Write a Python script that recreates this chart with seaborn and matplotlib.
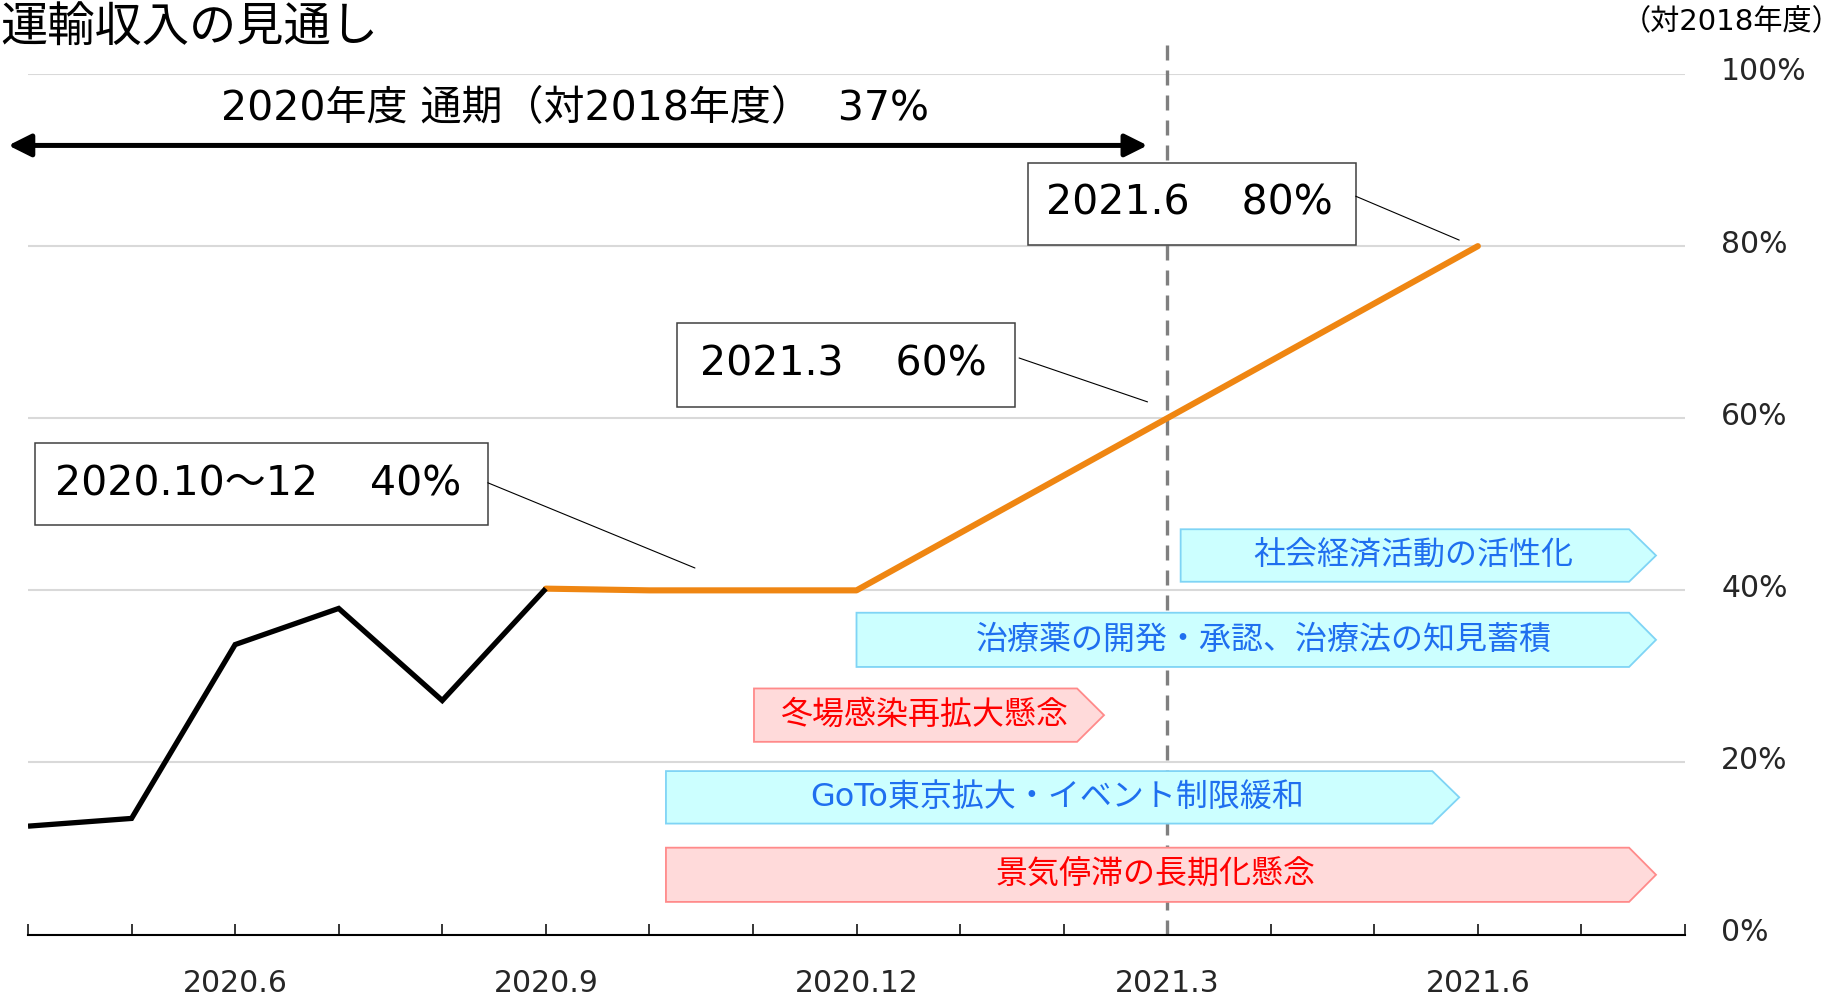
import numpy as np
import pandas as pd
import matplotlib
matplotlib.use('Agg')
import matplotlib.pyplot as plt
import matplotlib.transforms as mtransforms
import seaborn as sns
from matplotlib.patches import Polygon, Rectangle

# months on the category axis (2020.4 .. 2021.8)
months = ['2020.4', '2020.5', '2020.6', '2020.7', '2020.8', '2020.9', '2020.10', '2020.11',
          '2020.12', '2021.1', '2021.2', '2021.3', '2021.4', '2021.5', '2021.6', '2021.7', '2021.8']
tick_labels = ['2020.6', '2020.9', '2020.12', '2021.3', '2021.6']

# actual results (black)
actual_months = ['2020.4', '2020.5', '2020.6', '2020.7', '2020.8', '2020.9']
actual_values = [12.6, 13.5, 33.7, 37.9, 27.2, 40.2]

# outlook (orange)
outlook_months = ['2020.9', '2020.10', '2020.12', '2021.3', '2021.6']
outlook_values = [40.2, 40.0, 40.0, 60.0, 80.0]

yticks = [0, 20, 40, 60, 80, 100]

sns.set_style('white')
plt.rcParams['font.family'] = ['DejaVu Sans', 'Noto Sans CJK JP']

df_act = pd.DataFrame({'month': actual_months, 'value': actual_values})
df_act['pos'] = df_act['month'].map(months.index)
df_out = pd.DataFrame({'month': outlook_months, 'value': outlook_values})
df_out['pos'] = df_out['month'].map(months.index)

fig = plt.figure(figsize=(18.41, 9.97), dpi=100)
ax = fig.add_axes([28 / 1841, 1 - 934.6 / 997, (1685 - 28) / 1841, (934.6 - 74) / 997])

sns.lineplot(data=df_out, x='pos', y='value', ax=ax, color='#EF8612', lw=4.4,
             solid_capstyle='round', solid_joinstyle='round', zorder=4)
sns.lineplot(data=df_act, x='pos', y='value', ax=ax, color='black', lw=3.8,
             solid_capstyle='butt', solid_joinstyle='miter', zorder=5)

ax.set_xlim(0, len(months) - 1)
ax.set_ylim(0, 100)
ax.set_xlabel('')
ax.set_ylabel('')

# axes styling
for s in ['left', 'right', 'top']:
    ax.spines[s].set_visible(False)
ax.spines['bottom'].set_color('black')
ax.spines['bottom'].set_linewidth(1.5)

ax.set_xticks(range(len(months)))
ax.set_xticklabels([m if m in tick_labels else '' for m in months])
ax.tick_params(axis='x', bottom=True, direction='in', length=8, width=1.1, color='black',
               labelsize=21.5, pad=25)
ax.yaxis.tick_right()
ax.set_yticks(yticks)
ax.set_yticklabels([f'{v}%' for v in yticks])
ax.tick_params(axis='y', length=0, labelsize=21.5, pad=26)
# percent labels sit a little above their gridlines
shift = mtransforms.ScaledTranslation(0, 5 / 100, fig.dpi_scale_trans)
for lab in ax.get_yticklabels():
    lab.set_transform(lab.get_transform() + shift)
ax.yaxis.grid(True, color='#D9D9D9', lw=1.5)
ax.set_axisbelow(True)

# dashed line at 2021.3
ax.vlines(months.index('2021.3'), 0, 103.6, colors='#7F7F7F', lw=2.4,
          linestyles=(0, (4.5, 3)), clip_on=False, zorder=1)

# chevron shapes: (text, x start, x tip, y bottom, y top, kind, text offset)
events = [
    ('社会経済活動の活性化', 11.13, 15.72, 41.0, 47.1, 'pos', 0.0),
    ('治療薬の開発・承認、治療法の知見蓄積', 8.0, 15.72, 31.1, 37.4, 'pos', 0.12),
    ('冬場感染再拡大懸念', 7.01, 10.39, 22.4, 28.6, 'neg', 0.0),
    ('GoTo東京拡大・イベント制限緩和', 6.16, 13.82, 12.9, 19.0, 'pos', 0.0),
    ('景気停滞の長期化懸念', 6.16, 15.72, 3.8, 10.1, 'neg', 0.0),
]
styles = {'pos': ('#CCFFFF', '#7FD4F5', '#1F6FEF'),
          'neg': ('#FFDADA', '#FF8A8A', '#FF0000')}
for label, x0, xt, y0, y1, kind, dx in events:
    fc, ec, tc = styles[kind]
    xb = xt - 0.26
    ym = (y0 + y1) / 2
    poly = Polygon([(x0, y0), (xb, y0), (xt, ym), (xb, y1), (x0, y1)], closed=True,
                   facecolor=fc, edgecolor=ec, lw=1.3, zorder=3, clip_on=False)
    ax.add_patch(poly)
    ax.text((x0 + xt) / 2 - 0.05 + dx, ym, label, ha='center', va='center', fontsize=23,
            color=tc, zorder=6)

# callout boxes: (text, x0, x1, y0, y1, leader start, leader end)
callouts = [
    ('2020.10～12    40%', 0.07, 4.44, 47.6, 57.1, (4.44, 52.5), (6.44, 42.6)),
    ('2021.3    60%', 6.27, 9.53, 61.3, 71.1, (9.57, 67.0), (10.81, 61.9)),
    ('2021.6    80%', 9.66, 12.82, 80.1, 89.7, (12.82, 85.8), (13.82, 80.7)),
]
for label, x0, x1, y0, y1, p0, p1 in callouts:
    ax.add_patch(Rectangle((x0, y0), x1 - x0, y1 - y0, facecolor='white',
                           edgecolor='#404040', lw=1.1, zorder=7, clip_on=False))
    ax.text((x0 + x1) / 2 - 0.03, (y0 + y1) / 2, label, ha='center', va='center',
            fontsize=29.5, color='black', zorder=8)
    ax.plot([p0[0], p1[0]], [p0[1], p1[1]], color='black', lw=0.8, zorder=7,
            clip_on=False)

# fiscal-year arrow
ax.annotate('', xy=(10.81, 91.7), xytext=(-0.19, 91.7), annotation_clip=False,
            arrowprops=dict(arrowstyle='<|-|>', lw=3.6, color='black',
                            mutation_scale=34, shrinkA=0, shrinkB=0))
ax.text(5.28, 95.9, '2020年度 通期（対2018年度）  37%', ha='center', va='center',
        fontsize=29.5, color='black', clip_on=False)

fig.text(0.0, 1 - 29 / 997, '運輸収入の見通し', ha='left', va='center',
         fontsize=34, color='black')
fig.text(1.0, 1 - 22 / 997, '（対2018年度）', ha='right', va='center',
         fontsize=21, color='black')

fig.savefig('out.png', dpi=100)
